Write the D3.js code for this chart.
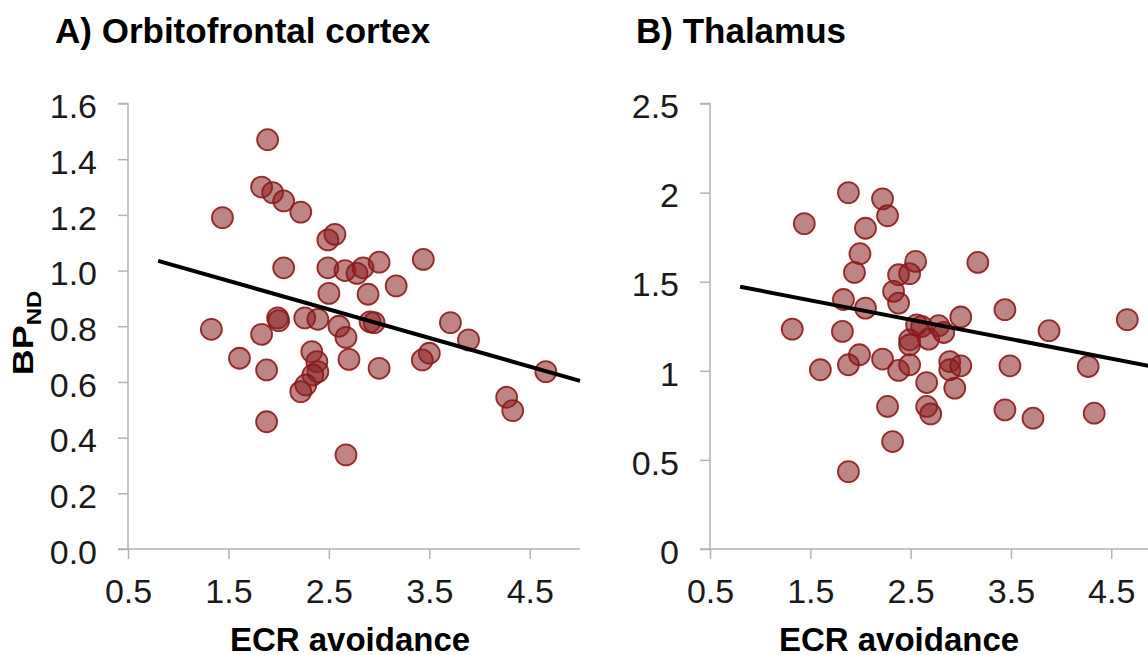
<!DOCTYPE html>
<html><head><meta charset="utf-8">
<script src="https://cdn.jsdelivr.net/npm/d3@7"></script>
<style>
html,body{margin:0;padding:0;background:#fff;overflow:hidden;}
svg{display:block;font-family:"Liberation Sans",Arial,Helvetica,sans-serif;}
</style></head>
<body>
<svg id="c" width="1148" height="655"></svg>
<script>
// ---- data ----
const titles = ["A) Orbitofrontal cortex", "B) Thalamus"];
const xLabel = "ECR avoidance";
const xTicks = [0.5, 1.5, 2.5, 3.5, 4.5];
const yTicksA = [0, 0.2, 0.4, 0.6, 0.8, 1.0, 1.2, 1.4, 1.6];
const yTicksB = [0, 0.5, 1, 1.5, 2, 2.5];

const ofcX = [1.89,1.44,1.83,1.94,2.05,2.22,2.05,2.49,2.56,2.49,2.66,2.78,2.84,3.00,3.44,3.17,2.89,2.50,
  1.99,2.00,2.26,2.39,2.60,2.67,2.91,2.95,3.71,3.89,3.50,3.43,4.66,4.27,4.33,2.70,3.00,2.33,2.38,2.39,
  2.34,2.27,2.22,2.67,1.88,1.33,1.83,1.61,1.88];
const ofcY = [1.47,1.19,1.30,1.28,1.25,1.21,1.01,1.11,1.13,1.01,1.00,0.99,1.01,1.03,1.04,0.945,0.915,0.918,
  0.83,0.82,0.83,0.825,0.80,0.76,0.816,0.813,0.813,0.751,0.703,0.679,0.637,0.545,0.497,0.681,0.649,0.709,0.673,0.637,
  0.625,0.589,0.565,0.338,0.643,0.789,0.771,0.685,0.457];

const thalX = [1.88,2.22,2.27,1.44,2.05,1.995,1.94,2.38,2.49,2.55,2.33,2.38,1.83,2.05,1.32,1.82,1.60,1.88,
  1.99,2.22,2.38,2.27,2.32,1.88,3.17,3.44,4.66,3.00,3.88,2.56,2.61,2.49,2.49,2.68,2.78,2.83,2.49,2.66,
  2.89,2.89,3.00,2.94,3.49,4.27,2.66,2.70,3.44,3.72,4.33];
const thalY = [2.00,1.965,1.87,1.826,1.80,1.657,1.552,1.539,1.545,1.614,1.446,1.38,1.40,1.352,1.234,1.221,1.006,1.034,
  1.09,1.066,1.002,0.80,0.603,0.434,1.608,1.343,1.287,1.302,1.225,1.258,1.249,1.174,1.146,1.178,1.253,1.215,1.034,0.934,
  1.052,1.006,1.028,0.903,1.028,1.024,0.80,0.758,0.781,0.734,0.762];

const fitX = [0.8, 5.0];
const fitA = [1.035, 0.604];
const fitB = [1.472, 1.014];

// ---- drawing ----
const svg = d3.select("#c");
const gray = "#b3b3b3";

const panels = [
  {title: titles[0], tx: 55, left: 128, right: 580, ymax: 1.6, yTicks: yTicksA, fmt: d3.format(".1f"),
   xs: ofcX, ys: ofcY, fit: fitA, xlab: 350},
  {title: titles[1], tx: 636, left: 710, right: 1161.4, ymax: 2.5, yTicks: yTicksB, fmt: d => String(d),
   xs: thalX, ys: thalY, fit: fitB, xlab: 899}
];
const plotTop = 103.5, plotBottom = 549;

panels.forEach(p => {
  const x = d3.scaleLinear().domain([0.5, 5.0]).range([p.left, p.right]);
  const y = d3.scaleLinear().domain([0, p.ymax]).range([plotBottom, plotTop]);

  svg.append("text").attr("x", p.tx).attr("y", 43)
    .attr("font-size", 35).attr("font-weight", "bold").attr("fill", "#000").text(p.title);

  // y axis
  const ya = svg.append("g").attr("transform", `translate(${p.left},0)`)
    .call(d3.axisLeft(y).tickValues(p.yTicks).tickFormat(p.fmt).tickSize(10).tickPadding(21));
  ya.select(".domain").attr("stroke", gray).attr("stroke-width", 1.5).attr("d", `M-10,${plotTop}H0V${plotBottom}`);
  ya.selectAll(".tick line").attr("stroke", gray).attr("stroke-width", 1.5);
  ya.selectAll(".tick text").attr("font-size", 34).attr("fill", "#1a1a1a")
    .attr("font-family", "Liberation Sans, Arial, sans-serif").attr("dy", "0.42em");

  // x axis
  const xa = svg.append("g").attr("transform", `translate(0,${plotBottom})`)
    .call(d3.axisBottom(x).tickValues(xTicks).tickFormat(d3.format(".1f")).tickSize(10).tickPadding(20));
  xa.select(".domain").attr("stroke", gray).attr("stroke-width", 1.5).attr("d", `M${p.left - 10},0H${p.right}`);
  xa.selectAll(".tick line").attr("stroke", gray).attr("stroke-width", 1.5);
  xa.selectAll(".tick text").attr("font-size", 34).attr("fill", "#1a1a1a")
    .attr("font-family", "Liberation Sans, Arial, sans-serif").attr("dy", "0.71em");

  svg.append("text").attr("x", p.xlab).attr("y", 651).attr("text-anchor", "middle")
    .attr("font-size", 33).attr("font-weight", "bold").attr("fill", "#000").text(xLabel);

  // points
  const pts = p.xs.map((v, i) => [v, p.ys[i]]);
  svg.append("g").selectAll("circle").data(pts).join("circle")
    .attr("cx", d => x(d[0])).attr("cy", d => y(d[1])).attr("r", 10.5)
    .attr("fill", "#8a2020").attr("fill-opacity", 0.55)
    .attr("stroke", "#8b1a1a").attr("stroke-width", 1.8).attr("stroke-opacity", 0.9);

  // fit line
  svg.append("path").datum(fitX.map((v, i) => [v, p.fit[i]]))
    .attr("d", d3.line().x(d => x(d[0])).y(d => y(d[1])))
    .attr("stroke", "#000").attr("stroke-width", 4).attr("fill", "none");
});

// y label
const yl = svg.append("text").attr("transform", "translate(33,333) rotate(-90) scale(1.2,1)")
  .attr("text-anchor", "middle").attr("font-weight", "bold").attr("fill", "#000");
yl.append("tspan").attr("font-size", 30).text("BP");
yl.append("tspan").attr("font-size", 20).attr("dy", 8).text("ND");
</script>
</body></html>
